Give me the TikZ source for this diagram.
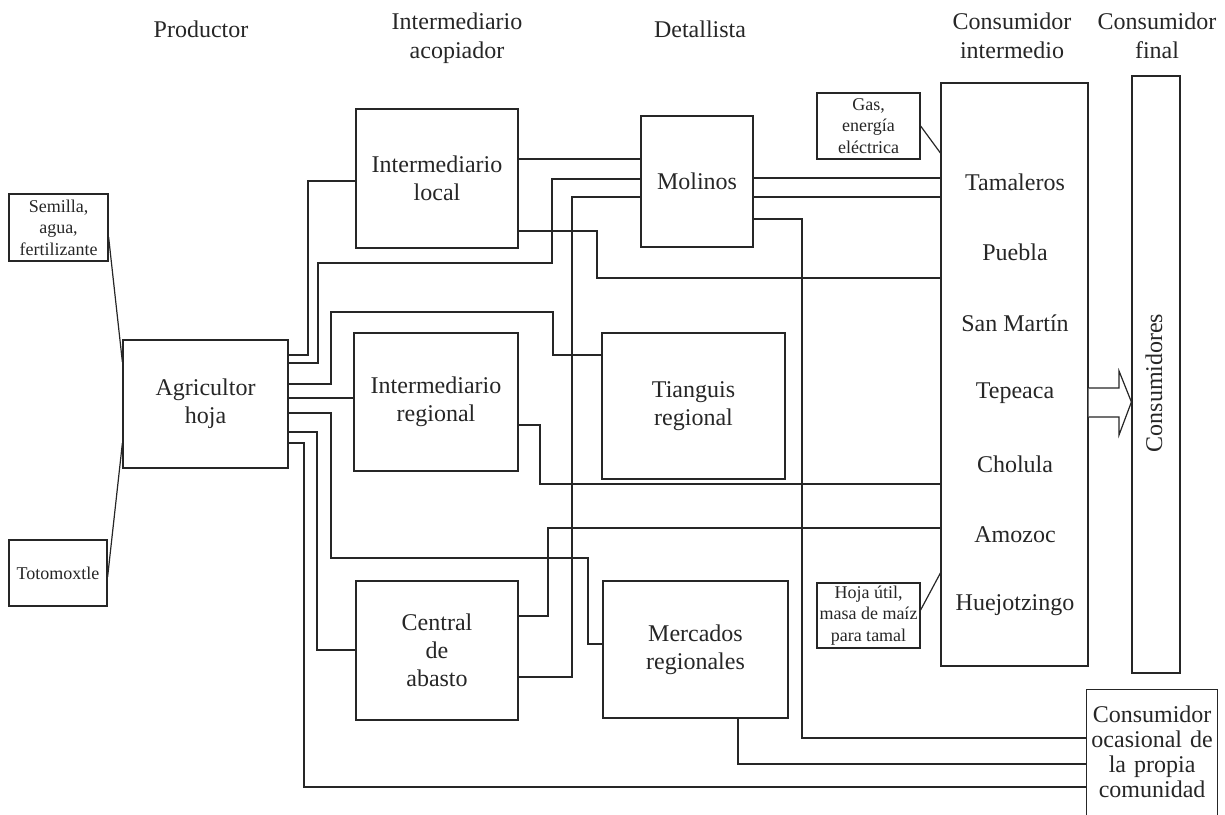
\documentclass[tikz,border=0pt]{standalone}
\usepackage{fontspec}
\setmainfont{Liberation Serif}

\tikzset{
  caja/.style={draw, align=center, inner sep=0pt, font=\fontsize{12}{14}\selectfont},
  cajita/.style={caja, font=\fontsize{9}{10.8}\selectfont},
  rotulo/.style={align=center, inner sep=0pt, font=\fontsize{12}{14.5}\selectfont},
}

\begin{document}
\begin{tikzpicture}[x=0.5pt, y=-0.5pt, line width=0.6pt, color=black!85]
  \useasboundingbox (0,0) rectangle (1225,814);

  % encabezados
  \node[rotulo, anchor=base] (hprod) at (201,37) {Productor};
  \node[rotulo, anchor=north] (hacop) at (457,12) {Intermediario\\acopiador};
  \node[rotulo, anchor=base] (hdet) at (700,37) {Detallista};
  \node[rotulo, anchor=north] (hcint) at (1012,12) {Consumidor\\intermedio};
  \node[rotulo, anchor=north] (hcfin) at (1157,12) {Consumidor\\final};

  \node[cajita, minimum width=49.5pt, minimum height=33.5pt] (sem) at (58.5,227.5) {Semilla,\\agua,\\fertilizante};
  \node[cajita, minimum width=49pt, minimum height=33pt] (toto) at (58,573) {Totomoxtle};
  \node[caja, minimum width=82.5pt, minimum height=64pt] (agri) at (205.5,404) {Agricultor\\hoja};
  \node[caja, minimum width=81pt, minimum height=69.5pt] (il) at (437,178.5) {Intermediario\\local};
  \node[caja, minimum width=82pt, minimum height=69pt] (ir) at (436,402) {Intermediario\\regional};
  \node[caja, minimum width=81pt, minimum height=69.5pt] (ca) at (437,650.5) {Central\\de\\abasto};
  \node[caja, minimum width=56pt, minimum height=65.5pt] (mol) at (697,181.5) {Molinos};
  \node[caja, minimum width=91.5pt, minimum height=73pt] (tia) at (693.5,406) {Tianguis\\regional};
  \node[caja, minimum width=92.5pt, minimum height=68.5pt] (mer) at (695.5,649.5) {Mercados\\regionales};
  \node[cajita, minimum width=51.5pt, minimum height=33pt] (gas) at (868.5,126) {Gas,\\energía\\eléctrica};
  \node[cajita, minimum width=51.5pt, minimum height=32.5pt] (hoja) at (868.5,615.5) {Hoja útil,\\masa de maíz\\para tamal};
  \node[caja, minimum width=73.5pt, minimum height=291.5pt] (ci) at (1014.5,374.5) {};
  \node[caja, minimum width=24pt, minimum height=298.5pt] (cons) at (1156,374.5) {};
  \node[rotulo, rotate=90] (tcons) at (1154,383) {Consumidores};
  \node[caja, anchor=north west, inner xsep=1.75pt, inner ysep=8pt, text width=62pt,
        font=\fontsize{12}{12.5}\selectfont] (oca) at (1086,689)
        {Consumidor\\ocasional de\\la propia\\comunidad\rule[-14pt]{0pt}{1pt}};

  \foreach \lugar [count=\i from 0] in {Tamaleros,Puebla,San Martín,Tepeaca,Cholula,Amozoc,Huejotzingo}
    \node[rotulo] (lug\i) at (1015,182+70.5*\i) {\lugar};

  % insumos
  \draw (sem.east|-0,237) -- (agri.west|-0,362);
  \draw (toto.east|-0,577) -- (agri.west|-0,443);
  \draw (gas.east) -- (ci.west|-0,153);
  \draw (hoja.east|-0,610) -- (ci.west|-0,573);

  % salidas del agricultor
  \draw (agri.east|-0,355) -| (308,181) -- (il.west|-0,181);
  \draw (agri.east|-0,363) -| (318,263) -| (552,179) -- (mol.west|-0,179);
  \draw (agri.east|-0,384) -| (331,312) -| (553,355) -- (tia.west|-0,355);
  \draw (agri.east|-0,398) -- (ir.west|-0,398);
  \draw (agri.east|-0,413) -| (331,558) -| (588,644) -- (mer.west|-0,644);
  \draw (agri.east|-0,432) -| (317,650) -- (ca.west|-0,650);
  \draw (agri.east|-0,443) -| (304,787) -- (oca.west|-0,787);

  % intermediarios
  \draw (il.east|-0,159) -- (mol.west|-0,159);
  \draw (il.east|-0,231) -| (597,278) -- (ci.west|-0,278);
  \draw (ir.east|-0,425) -| (540,484) -- (ci.west|-0,484);
  \draw (ca.east|-0,616) -| (548,528) -- (ci.west|-0,528);
  \draw (ca.east|-0,677) -| (572,197) -- (mol.west|-0,197);

  % detallistas
  \draw (mol.east|-0,178) -- (ci.west|-0,178);
  \draw (mol.east|-0,197) -- (ci.west|-0,197);
  \draw (mol.east|-0,219) -| (802,738) -- (oca.west|-0,738);
  \draw (mer.south-|738,0) |- (oca.west|-0,764);

  \draw[fill=white] (ci.east|-0,388) -- (1119,388) -- (1119,371) -- (cons.west|-0,402)
    -- (1119,435) -- (1119,417) -- (ci.east|-0,417);
\end{tikzpicture}
\end{document}
